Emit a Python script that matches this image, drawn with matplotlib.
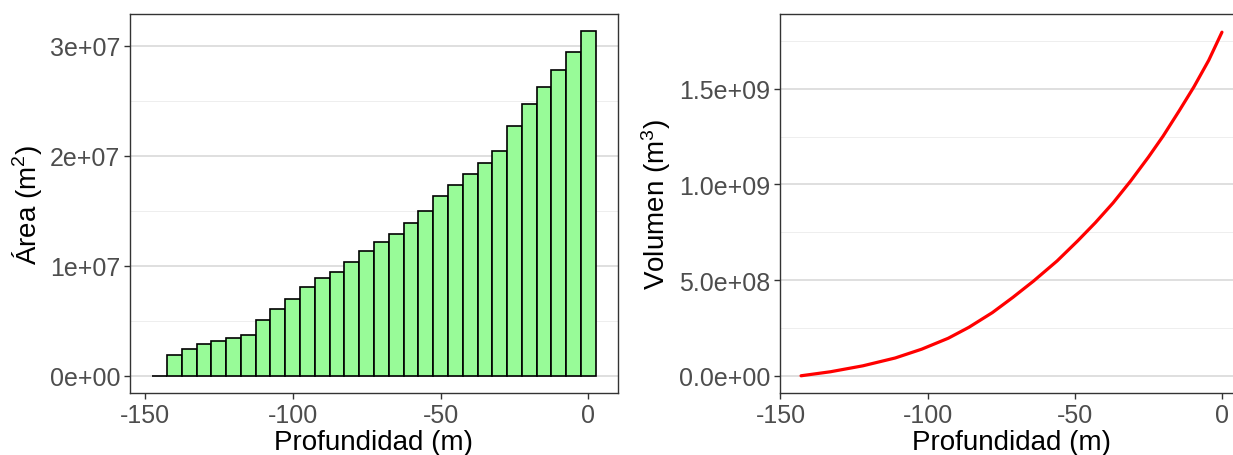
import matplotlib
matplotlib.use("Agg")
import matplotlib.pyplot as plt
import numpy as np

plt.rcParams['font.family'] = ['Liberation Sans', 'DejaVu Sans']
plt.rcParams['mathtext.fontset'] = 'custom'
plt.rcParams['mathtext.rm'] = 'Liberation Sans'
plt.rcParams['mathtext.it'] = 'Liberation Sans'

# area per depth bin (bars, 5 m wide)
profundidad = [-145, -140, -135, -130, -125, -120, -115, -110, -105, -100,
               -95, -90, -85, -80, -75, -70, -65, -60, -55, -50,
               -45, -40, -35, -30, -25, -20, -15, -10, -5, 0]
area = [0.000e7, 0.188e7, 0.242e7, 0.287e7, 0.312e7, 0.345e7, 0.372e7, 0.511e7, 0.611e7, 0.693e7,
        0.804e7, 0.886e7, 0.943e7, 1.031e7, 1.137e7, 1.212e7, 1.285e7, 1.387e7, 1.499e7, 1.632e7,
        1.732e7, 1.831e7, 1.931e7, 2.046e7, 2.270e7, 2.470e7, 2.627e7, 2.778e7, 2.937e7, 3.131e7]

# cumulative volume curve
prof_vol = [-143, -133, -122, -111, -102, -93, -86, -78, -71, -64,
            -56, -49, -43, -37, -31, -25, -20, -14.5, -9.5, -4.5, 0]
volumen = [0.0, 0.021e9, 0.052e9, 0.093e9, 0.139e9, 0.196e9, 0.253e9, 0.330e9, 0.410e9, 0.495e9,
           0.600e9, 0.705e9, 0.800e9, 0.903e9, 1.018e9, 1.142e9, 1.252e9, 1.385e9, 1.510e9, 1.648e9, 1.795e9]

xticks = [-150, -100, -50, 0]
xticklabels = ['-150', '-100', '-50', '0']
area_ticks = [0, 1e7, 2e7, 3e7]
area_labels = ['0e+00', '1e+07', '2e+07', '3e+07']
area_minor = [0.5e7, 1.5e7, 2.5e7]
vol_ticks = [0, 5e8, 1e9, 1.5e9]
vol_labels = ['0.0e+00', '5.0e+08', '1.0e+09', '1.5e+09']
vol_minor = [2.5e8, 7.5e8, 1.25e9, 1.75e9]

W, H = 1233, 456
fig = plt.figure(figsize=(W / 100, H / 100), dpi=100)
ax1 = fig.add_axes([130 / W, (H - 394) / H, (618 - 130) / W, (394 - 15) / H])
ax2 = fig.add_axes([780 / W, (H - 394) / H, (1243 - 780) / W, (394 - 15) / H])


def style(ax, yt, ylab, ymin, xlab, ylabel):
    for y in ymin:
        ax.axhline(y, color='#ebebeb', lw=0.6, zorder=0)
    for y in yt:
        ax.axhline(y, color='#d6d6d6', lw=1.1, zorder=0)
    ax.set_yticks(yt)
    ax.set_yticklabels(ylab)
    ax.set_xticks(xticks)
    ax.set_xticklabels(xticklabels)
    ax.tick_params(axis='both', labelsize=18, colors='#333333', labelcolor='#4d4d4d',
                   length=4, width=1, pad=3)
    for s in ax.spines.values():
        s.set_color('#333333')
        s.set_linewidth(1.0)
    ax.set_xlabel(xlab, fontsize=20, color='black', labelpad=2)
    ax.set_ylabel(ylabel, fontsize=20, color='black', labelpad=4)


ax1.bar(profundidad, area, width=5, color='#98fb98', edgecolor='black', linewidth=1.2, zorder=2)
ax1.set_xlim(-155, 10)
ax1.set_ylim(-0.1565e7, 3.2865e7)
style(ax1, area_ticks, area_labels, area_minor, 'Profundidad (m)', 'Área (m$^2$)')

ax2.plot(prof_vol, volumen, color='red', lw=2.3, zorder=2, solid_capstyle='round')
ax2.set_xlim(-150.15, 7.15)
ax2.set_ylim(-0.09e9, 1.89e9)
style(ax2, vol_ticks, vol_labels, vol_minor, 'Profundidad (m)', 'Volumen (m$^3$)')

fig.savefig('out.png', dpi=100)
